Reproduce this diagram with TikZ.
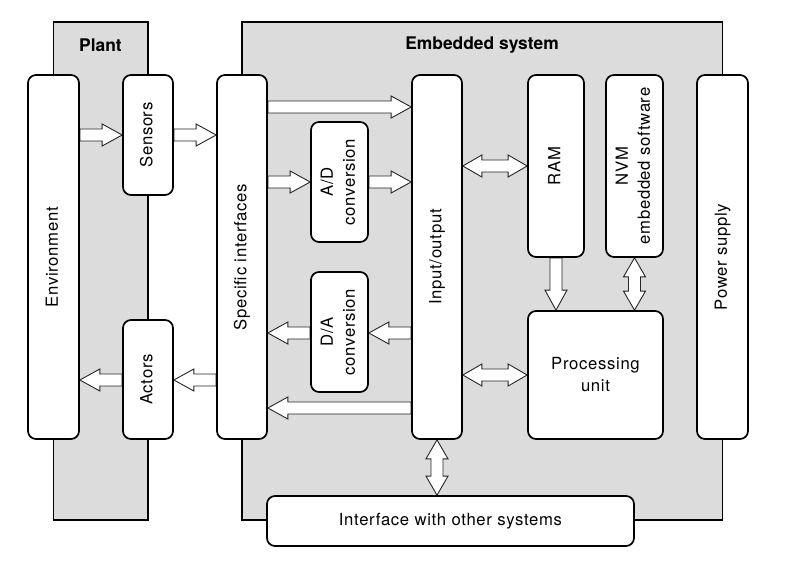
\documentclass[tikz,border=0pt]{standalone}
\usepackage{fontspec}
\setmainfont{TeX Gyre Heros}
\newfontfamily\labfont{TeX Gyre Heros}[LetterSpace=4]
\usepackage{graphicx}
\usetikzlibrary{calc,backgrounds}
\definecolor{bggray}{HTML}{DCDCDC}
\tikzset{
 box/.style={draw, line width=1.7pt, fill=white, rounded corners=8pt, inner sep=0pt, align=center, font=\labfont\fontsize{16.7pt}{22pt}\selectfont},
 region/.style={draw, line width=1.7pt, fill=bggray},
 ttl/.style={font=\bfseries\fontsize{17.4pt}{20pt}\selectfont, inner sep=0pt},
 barr/.style={draw=black!85, line width=0.9pt, fill=white, line join=miter},
}
\newcommand{\vtext}[1]{\rotatebox{90}{\begin{tabular}{@{}c@{}}#1\end{tabular}}}
\newcommand{\sarrow}[2]{%
 \coordinate (sa-a) at (#1); \coordinate (sa-b) at (#2);
 \coordinate (sa-h) at ($(sa-b)!20pt!(sa-a)$);
 \draw[barr] ($(sa-a)!6pt!90:(sa-b)$) -- ($(sa-h)!6pt!90:(sa-b)$) -- ($(sa-h)!11pt!90:(sa-b)$) -- (sa-b) -- ($(sa-h)!11pt!-90:(sa-b)$) -- ($(sa-h)!6pt!-90:(sa-b)$) -- ($(sa-a)!6pt!-90:(sa-b)$) -- cycle;}
\newcommand{\darrow}[2]{%
 \coordinate (dw-a) at (#1); \coordinate (dw-b) at (#2);
 \coordinate (dw-h1) at ($(dw-b)!19pt!(dw-a)$);
 \coordinate (dw-h2) at ($(dw-a)!19pt!(dw-b)$);
 \draw[barr] (dw-a) -- ($(dw-h2)!11pt!90:(dw-b)$) -- ($(dw-h2)!6pt!90:(dw-b)$) -- ($(dw-h1)!6pt!90:(dw-b)$) -- ($(dw-h1)!11pt!90:(dw-b)$) -- (dw-b) -- ($(dw-h1)!11pt!-90:(dw-b)$) -- ($(dw-h1)!6pt!-90:(dw-b)$) -- ($(dw-h2)!6pt!-90:(dw-b)$) -- ($(dw-h2)!11pt!-90:(dw-b)$) -- cycle;}
\begin{document}
\begin{tikzpicture}[x=1pt,y=-1pt]
\useasboundingbox (0,0) rectangle (793,561);
% nodes
\node[box, minimum width=51pt, minimum height=364pt] (env) at (53.5,257) {\vtext{Environment}};
\node[box, minimum width=50pt, minimum height=120pt] (sens) at (148,135) {\vtext{Sensors}};
\node[box, minimum width=50pt, minimum height=119pt] (act) at (148,379.5) {\vtext{Actors}};
\node[box, minimum width=50pt, minimum height=364pt] (spec) at (242,257) {\vtext{Specific interfaces}};
\node[box, minimum width=57pt, minimum height=120pt] (adc) at (339.5,182) {\vtext{A/D\\conversion}};
\node[box, minimum width=57pt, minimum height=120pt] (dac) at (339.5,332) {\vtext{D/A\\conversion}};
\node[box, minimum width=50pt, minimum height=364pt] (io) at (437,257) {\vtext{Input/output}};
\node[box, minimum width=56pt, minimum height=182pt] (ram) at (556,166) {\vtext{RAM}};
\node[box, minimum width=57pt, minimum height=182pt] (nvm) at (634.5,166) {\vtext{NVM\\embedded software}};
\node[box, minimum width=51pt, minimum height=364pt] (pwr) at (722.5,257) {\vtext{Power supply}};
\node[box, minimum width=135pt, minimum height=128pt] (pu) at (595.5,375) {Processing\\unit};
\node[box, minimum width=367pt, minimum height=50pt] (iface) at (450.5,521) {Interface with other systems};
\begin{scope}[on background layer]
\draw[region] (env.center |- 0,22) rectangle (sens.center |- 0,520);
\draw[region] (spec.center |- 0,22) rectangle (pwr.center |- 0,520);
\sarrow{env.east |- 0,135}{sens.west |- 0,135}
\sarrow{sens.east |- 0,135}{spec.west |- 0,135}
\sarrow{spec.east |- 0,107}{io.west |- 0,107}
\sarrow{spec.east |- 0,182}{adc.west |- 0,182}
\sarrow{adc.east |- 0,182}{io.west |- 0,182}
\sarrow{io.west |- 0,333}{dac.east |- 0,333}
\sarrow{dac.west |- 0,333}{spec.east |- 0,333}
\sarrow{io.west |- 0,408}{spec.east |- 0,408}
\sarrow{spec.west |- 0,380}{act.east |- 0,380}
\sarrow{act.west |- 0,380}{env.east |- 0,380}
\darrow{io.east |- 0,166}{ram.west |- 0,166}
\darrow{io.east |- 0,375}{pu.west |- 0,375}
\sarrow{ram.south}{ram.south |- pu.north}
\darrow{nvm.south}{nvm.south |- pu.north}
\darrow{io.south}{io.south |- iface.north}
\end{scope}
\node[ttl] (tplant) at (100.5,45) {Plant};
\node[ttl] (tembed) at (482,45) {Embedded system};
\end{tikzpicture}
\end{document}
